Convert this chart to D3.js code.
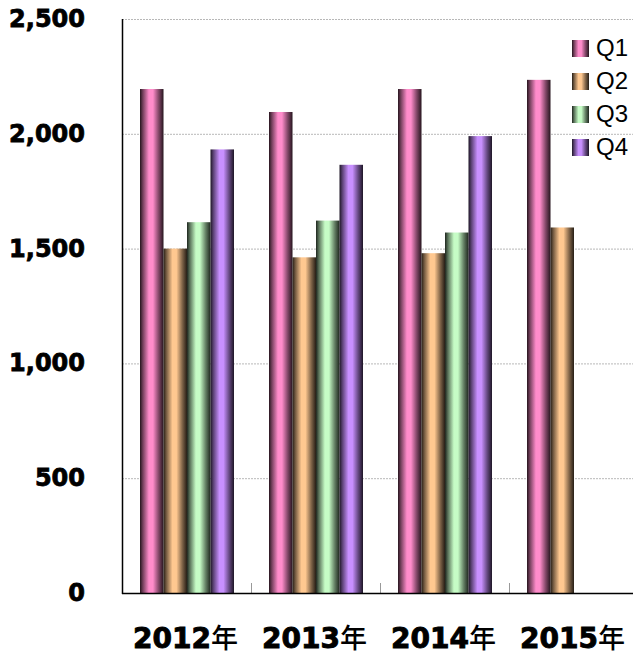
<!DOCTYPE html>
<html>
<head>
<meta charset="utf-8">
<script src="https://cdn.jsdelivr.net/npm/d3@7"></script>
<style>
  body { margin: 0; background: #fff; }
</style>
</head>
<body>
<script>
"use strict";

const years = ["2012年", "2013年", "2014年", "2015年"];
const quarters = ["Q1", "Q2", "Q3", "Q4"];
const q1 = [2195, 2095, 2195, 2235];
const q2 = [1500, 1462, 1480, 1592];
const q3 = [1615, 1622, 1570, null];
const q4 = [1932, 1865, 1990, null];
const yTicks = [0, 500, 1000, 1500, 2000, 2500];
const barColors = ["#ff8ccb", "#ffc890", "#c6fcc6", "#c890ff"];

(function(){

  // dimensions for svg
  const measurements = {
    width: 633,
    height: 654,
    left: 122,
    right: 638,
    top: 19,
    bottom: 593
  };

  const series = [q1, q2, q3, q4];

  const svg = d3.select("body").append("svg")
      .attr("width", measurements.width)
      .attr("height", measurements.height);

  // shaded gradients for the cylinder-like bars
  const defs = svg.append("defs");
  function addGradient(id, color) {
    const c = d3.color(color);
    const dark = (k) => d3.interpolateRgb(color, "#000")(k);
    const g = defs.append("linearGradient")
        .attr("id", id)
        .attr("x1", 0).attr("x2", 1).attr("y1", 0).attr("y2", 0);
    const stops = [
      [0, dark(0.85)],
      [0.12, dark(0.55)],
      [0.38, c.formatHex()],
      [0.55, c.formatHex()],
      [0.8, dark(0.5)],
      [1, dark(0.85)]
    ];
    stops.forEach((s) => {
      g.append("stop").attr("offset", s[0]).attr("stop-color", s[1]);
    });
  }
  barColors.forEach((col, i) => addGradient("grad" + i, col));

  const scaleY = d3.scaleLinear()
      .domain([0, 2500])
      .range([measurements.bottom, measurements.top]);

  const scaleX = d3.scaleBand()
      .domain(years)
      .range([measurements.left, measurements.right])
      .padding(0);

  const scaleQ = d3.scaleBand()
      .domain(quarters)
      .range([18, 112])
      .padding(0);

  // gridlines
  svg.append("g")
    .selectAll("line")
    .data(yTicks.filter((d) => d > 0))
    .enter()
    .append("line")
      .attr("x1", measurements.left)
      .attr("x2", measurements.width)
      .attr("y1", (d) => scaleY(d) + 0.5)
      .attr("y2", (d) => scaleY(d) + 0.5)
      .attr("stroke", "#b8b8b8")
      .attr("stroke-width", 1)
      .attr("stroke-dasharray", "2,1");

  // bars
  const groups = svg.append("g")
    .selectAll("g")
    .data(years)
    .enter()
    .append("g")
      .attr("transform", (d) => "translate(" + scaleX(d) + ",0)");

  groups.selectAll("rect")
    .data((d, i) => quarters.map((q, j) => ({ q: q, j: j, v: series[j][i] })).filter((b) => b.v != null))
    .enter()
    .append("rect")
      .attr("x", (d) => scaleQ(d.q))
      .attr("width", scaleQ.bandwidth())
      .attr("y", (d) => scaleY(d.v))
      .attr("height", (d) => scaleY(0) - scaleY(d.v))
      .attr("fill", (d) => "url(#grad" + d.j + ")");

  // x axis ticks between categories
  svg.append("g")
    .selectAll("line")
    .data(years.slice(1))
    .enter()
    .append("line")
      .attr("x1", (d) => Math.round(scaleX(d)) + 0.5)
      .attr("x2", (d) => Math.round(scaleX(d)) + 0.5)
      .attr("y1", measurements.bottom - 10)
      .attr("y2", measurements.bottom)
      .attr("stroke", "#999");

  // axis lines
  svg.append("line")
    .attr("x1", measurements.left + 0.5).attr("x2", measurements.left + 0.5)
    .attr("y1", measurements.top).attr("y2", measurements.bottom + 1)
    .attr("stroke", "#000").attr("stroke-width", 1.5);
  svg.append("line")
    .attr("x1", measurements.left).attr("x2", measurements.width)
    .attr("y1", measurements.bottom + 0.5).attr("y2", measurements.bottom + 0.5)
    .attr("stroke", "#000").attr("stroke-width", 1.5);

  // y tick labels
  svg.append("g")
    .selectAll("text")
    .data(yTicks)
    .enter()
    .append("text")
      .attr("x", 85)
      .attr("y", (d) => scaleY(d) + 8)
      .attr("text-anchor", "end")
      .style("font-family", "'DejaVu Sans', sans-serif")
      .style("font-weight", "bold")
      .style("font-size", "24px")
      .attr("fill", "#000")
      .attr("stroke", "#000")
      .attr("stroke-width", 0.8)
      .text((d) => d3.format(",")(d));

  // x labels: heavy digits, lighter 年
  const xl = svg.append("g")
    .selectAll("text")
    .data(years)
    .enter()
    .append("text")
      .attr("x", (d) => scaleX(d) + scaleX.bandwidth() / 2 - 1)
      .attr("y", 648)
      .attr("text-anchor", "middle")
      .attr("fill", "#000");
  xl.append("tspan")
    .style("font-family", "'DejaVu Sans', sans-serif")
    .style("font-weight", "bold")
    .style("font-size", "28px")
    .attr("stroke", "#000")
    .attr("stroke-width", 0.9)
    .text((d) => d.slice(0, 4));
  xl.append("tspan")
    .style("font-family", "'Noto Sans CJK SC', sans-serif")
    .style("font-weight", "500")
    .style("font-size", "27px")
    .text((d) => d.slice(4));

  // legend
  const legend = svg.append("g")
    .selectAll("g")
    .data(quarters)
    .enter()
    .append("g")
      .attr("transform", (d, i) => "translate(572," + (40 + i * 33) + ")");

  legend.append("rect")
    .attr("width", 17)
    .attr("height", 17)
    .attr("fill", (d, i) => "url(#grad" + i + ")");

  legend.append("text")
    .attr("x", 24)
    .attr("y", 16)
    .style("font-family", "'Liberation Sans', sans-serif")
    .style("font-size", "24px")
    .attr("fill", "#000")
    .text((d) => d);

})();
</script>
</body>
</html>
